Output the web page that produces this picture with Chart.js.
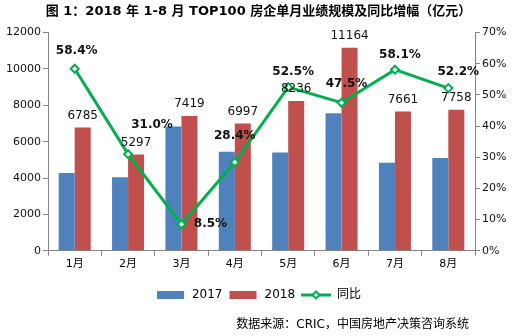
<!DOCTYPE html>
<html>
<head>
<meta charset="utf-8">
<script src="https://cdn.jsdelivr.net/npm/chart.js@4"></script>
<style>
  html, body { margin: 0; padding: 0; background: #fff; }
</style>
</head>
<body>
<canvas id="myChart" width="517" height="336"></canvas>
<script>
const months = ['1月', '2月', '3月', '4月', '5月', '6月', '7月', '8月'];
const sales2017 = [4285, 4045, 6840, 5450, 5400, 7570, 4845, 5100];
const sales2018 = [6785, 5297, 7419, 6997, 8236, 11164, 7661, 7758];
const growth = [58.4, 31.0, 8.5, 28.4, 52.5, 47.5, 58.1, 52.2];
const seriesNames = ['2017', '2018', '同比'];

const FONT = '"DejaVu Sans", "Noto Sans CJK SC", sans-serif';
const BLUE = '#4F81BD';
const RED = '#C0504D';
const GREEN = '#00B050';
const AXIS = '#868686';

// where each % label sits relative to its point
const pctOffsets = [[2, -18], [24, -29], [29, 0], [0, -26], [5, -15], [5, -19], [5, -15], [10, -16]];

const swatch = (color, isLine) => {
  const c = document.createElement('canvas');
  c.width = 30;
  c.height = 10;
  const g = c.getContext('2d');
  if (isLine) {
    g.strokeStyle = color;
    g.lineWidth = 3;
    g.beginPath();
    g.moveTo(0, 5);
    g.lineTo(30, 5);
    g.stroke();
    g.fillStyle = '#fff';
    g.lineWidth = 2;
    g.beginPath();
    g.moveTo(15, 1.5);
    g.lineTo(18.5, 5);
    g.lineTo(15, 8.5);
    g.lineTo(11.5, 5);
    g.closePath();
    g.fill();
    g.stroke();
  } else {
    g.fillStyle = color;
    g.fillRect(1, 1, 27, 8);
  }
  return c;
};

const labelPlugin = {
  id: 'valueLabels',
  afterDatasetsDraw(chart) {
    const ctx = chart.ctx;
    ctx.save();
    ctx.fillStyle = '#111';
    ctx.textAlign = 'center';
    ctx.textBaseline = 'middle';
    ctx.font = '12px ' + FONT;
    chart.getDatasetMeta(1).data.forEach((bar, i) => {
      ctx.fillText(String(sales2018[i]), bar.x, bar.y - 12);
    });
    ctx.font = 'bold 12px ' + FONT;
    chart.getDatasetMeta(2).data.forEach((pt, i) => {
      const [dx, dy] = pctOffsets[i];
      ctx.fillText(growth[i].toFixed(1) + '%', pt.x + dx, pt.y + dy);
    });
    ctx.font = '12px ' + FONT;
    ctx.fillStyle = '#000';
    ctx.textAlign = 'right';
    ctx.fillText('数据来源：CRIC，中国房地产决策咨询系统', 469, 325);
    ctx.restore();
  }
};

const ctx = document.getElementById('myChart').getContext('2d');
new Chart(ctx, {
  data: {
    labels: months,
    datasets: [
      {
        type: 'bar',
        label: seriesNames[0],
        data: sales2017,
        backgroundColor: BLUE,
        yAxisID: 'y',
        order: 2,
        categoryPercentage: 0.6,
        barPercentage: 1.0,
      },
      {
        type: 'bar',
        label: seriesNames[1],
        data: sales2018,
        backgroundColor: RED,
        yAxisID: 'y',
        order: 2,
        categoryPercentage: 0.6,
        barPercentage: 1.0,
      },
      {
        type: 'line',
        label: seriesNames[2],
        data: growth,
        borderColor: GREEN,
        borderWidth: 3,
        pointStyle: 'rectRot',
        pointRadius: 4,
        pointBorderWidth: 2,
        pointBackgroundColor: '#fff',
        pointBorderColor: GREEN,
        yAxisID: 'y1',
        order: 1,
        tension: 0,
      },
    ],
  },
  options: {
    responsive: false,
    animation: false,
    layout: {
      padding: { left: 0, right: 0, top: 0, bottom: 25 },
    },
    plugins: {
      title: {
        display: true,
        text: '图 1：2018 年 1-8 月 TOP100 房企单月业绩规模及同比增幅（亿元）',
        color: '#000',
        font: { family: FONT, size: 13, weight: 'bold' },
        padding: { top: 4, bottom: 13 },
      },
      legend: {
        position: 'bottom',
        labels: {
          usePointStyle: true,
          pointStyleWidth: 30,
          boxHeight: 10,
          padding: 6,
          color: '#000',
          font: { family: FONT, size: 12 },
          generateLabels: () => [
            { text: seriesNames[0], pointStyle: swatch(BLUE, false), datasetIndex: 0, fontColor: '#000' },
            { text: seriesNames[1], pointStyle: swatch(RED, false), datasetIndex: 1, fontColor: '#000' },
            { text: seriesNames[2], pointStyle: swatch(GREEN, true), datasetIndex: 2, fontColor: '#000' },
          ],
        },
      },
      tooltip: { enabled: false },
    },
    scales: {
      x: {
        afterFit: (scale) => { scale.height += 10; },
        grid: { drawOnChartArea: false, tickLength: 5, color: AXIS, offset: true },
        border: { color: AXIS },
        ticks: { color: '#000', font: { family: FONT, size: 11 }, padding: 2 },
      },
      y: {
        position: 'left',
        min: 0,
        max: 12000,
        afterFit: (scale) => { scale.width = 48; },
        grid: { drawOnChartArea: false, tickLength: 5, color: AXIS },
        border: { color: AXIS },
        ticks: {
          stepSize: 2000,
          color: '#111',
          font: { family: FONT, size: 11 },
          padding: 2,
          callback: (v) => String(v),
        },
      },
      y1: {
        position: 'right',
        min: 0,
        max: 70,
        afterFit: (scale) => { scale.width = 42; },
        grid: { drawOnChartArea: false, tickLength: 5, color: AXIS },
        border: { color: AXIS },
        ticks: {
          stepSize: 10,
          color: '#111',
          font: { family: FONT, size: 11 },
          padding: 2,
          callback: (v) => v + '%',
        },
      },
    },
  },
  plugins: [labelPlugin],
});
</script>
</body>
</html>
